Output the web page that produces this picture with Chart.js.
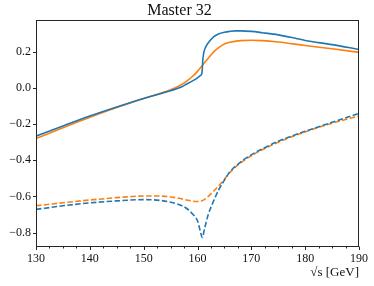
<!DOCTYPE html>
<html>
<head>
<meta charset="utf-8">
<script src="https://cdn.jsdelivr.net/npm/chart.js@4/dist/chart.umd.min.js"></script>
<style>
html,body{margin:0;padding:0;background:#fff;}
#wrap{width:374px;height:286px;position:relative;}
</style>
</head>
<body>
<div id="wrap"><canvas id="c" width="374" height="286"></canvas></div>
<script>
// ---- data ----
const titleText = "Master 32";
const xLabel = "\u221As [GeV]";
const xMajorTicks = [130, 140, 150, 160, 170, 180, 190];
const yTicks = [-0.8, -0.6, -0.4, -0.2, 0.0, 0.2];

const blueSolidX = [130,135,140,145,150,155,157,158,159,160,160.5,160.8,160.9,161.0,161.2,161.5,162,163,164,165,166,167,168,170,172,175,178,180,185,190];
const blueSolidY = [-0.267,-0.21,-0.155,-0.105,-0.058,-0.015,0.005,0.022,0.038,0.056,0.068,0.08,0.11,0.16,0.2,0.225,0.25,0.283,0.3,0.308,0.313,0.316,0.316,0.313,0.306,0.294,0.276,0.263,0.24,0.213];

const orangeSolidX = [130,135,140,145,150,155,157,158,159,160,161,162,163,164,165,166,168,170,172,175,180,185,190];
const orangeSolidY = [-0.28,-0.22,-0.162,-0.108,-0.058,-0.01,0.018,0.038,0.062,0.092,0.128,0.165,0.2,0.225,0.243,0.253,0.262,0.264,0.262,0.254,0.235,0.217,0.197];

const blueDashX = [130,135,140,145,150,153,155,157,158,159,160,160.5,160.9,161.3,162,163,164,165,166,168,170,172,175,180,185,190];
const blueDashY = [-0.672,-0.652,-0.636,-0.625,-0.618,-0.622,-0.632,-0.65,-0.667,-0.695,-0.735,-0.79,-0.828,-0.78,-0.70,-0.625,-0.56,-0.51,-0.465,-0.41,-0.37,-0.338,-0.295,-0.24,-0.19,-0.14];

const orangeDashX = [130,135,140,145,150,153,155,157,158,159,160,161,162,163,164,165,166,168,170,175,180,185,190];
const orangeDashY = [-0.652,-0.635,-0.62,-0.607,-0.598,-0.598,-0.603,-0.613,-0.62,-0.626,-0.628,-0.622,-0.6,-0.57,-0.54,-0.505,-0.468,-0.415,-0.375,-0.3,-0.243,-0.195,-0.155];

const BLUE = '#1f77b4', ORANGE = '#ff7f0e';
const SERIF = "'Liberation Serif','DejaVu Serif',serif";

function pts(xs, ys){ return xs.map((x,i)=>({x:x, y:ys[i]})); }
function fmtY(v){ let s = (Math.abs(v) < 1e-9 ? 0 : v).toFixed(1); return s.replace('-', '\u2212'); }

const frameTicks = {
  id: 'frameTicks',
  afterDraw(chart){
    const ctx = chart.ctx, a = chart.chartArea;
    const L = Math.round(a.left)+0.5, R = Math.round(a.right)-0.5, T = Math.round(a.top)+0.5, B = Math.round(a.bottom)-0.5;
    ctx.save();
    ctx.strokeStyle = '#262626';
    ctx.lineWidth = 1;
    ctx.strokeRect(L, T, R-L, B-T);
    // x ticks
    const xs = chart.scales.x;
    xs.ticks.forEach(t=>{
      const px = Math.round(xs.getPixelForValue(t.value))+0.5;
      const major = xMajorTicks.some(m=>Math.abs(m-t.value)<1e-6);
      const len = major ? 3.5 : 2;
      ctx.beginPath(); ctx.moveTo(px, B); ctx.lineTo(px, B+len); ctx.stroke();
    });
    const ys = chart.scales.y;
    ys.ticks.forEach(t=>{
      const py = Math.round(ys.getPixelForValue(t.value))+0.5;
      ctx.beginPath(); ctx.moveTo(L, py); ctx.lineTo(L-3.5, py); ctx.stroke();
    });
    ctx.restore();
  }
};

const common = {fill:false, pointRadius:0, borderWidth:1.6, tension:0, cubicInterpolationMode:'monotone'};

new Chart(document.getElementById('c'), {
  type: 'line',
  data: {
    datasets: [
      Object.assign({label:'blue solid', data: pts(blueSolidX, blueSolidY), borderColor: BLUE}, common),
      Object.assign({label:'orange solid', data: pts(orangeSolidX, orangeSolidY), borderColor: ORANGE}, common),
      Object.assign({label:'blue dashed', data: pts(blueDashX, blueDashY), borderColor: BLUE, borderDash:[5.5,2.4]}, common),
      Object.assign({label:'orange dashed', data: pts(orangeDashX, orangeDashY), borderColor: ORANGE, borderDash:[5.5,2.4]}, common)
    ]
  },
  options: {
    responsive: false,
    animation: false,
    devicePixelRatio: 1,
    layout: {padding: {left: 0, right: 15, top: 1, bottom: 0}},
    plugins: {
      legend: {display: false},
      tooltip: {enabled: false},
      title: {display: true, text: titleText, color: '#111', font: {family: SERIF, size: 16, weight: 'normal', lineHeight: 1.2}, padding: {top: 0, bottom: 0}}
    },
    scales: {
      x: {
        type: 'linear', min: 130, max: 190,
        grid: {display: false, drawTicks: false},
        border: {display: false},
        ticks: {
          stepSize: 2.5, autoSkip: false, maxRotation: 0, includeBounds: false,
          padding: 5, color: '#111', font: {family: SERIF, size: 12},
          callback: (v)=> xMajorTicks.some(m=>Math.abs(m-v)<1e-6) ? String(Math.round(v)) : ''
        },
        title: {display: true, text: xLabel, align: 'end', color: '#111', font: {family: SERIF, size: 13, lineHeight: 1.2}, padding: {top: 0, bottom: 6}},
        afterFit: (s)=>{ s.height = 39; }
      },
      y: {
        type: 'linear', min: -0.88, max: 0.375,
        grid: {display: false, drawTicks: false},
        border: {display: false},
        ticks: {
          stepSize: 0.2, includeBounds: false, padding: 5, color: '#111',
          font: {family: SERIF, size: 12},
          callback: (v)=> fmtY(v)
        },
        afterFit: (s)=>{ s.width = 36; }
      }
    }
  },
  plugins: [frameTicks]
});
</script>
</body>
</html>
